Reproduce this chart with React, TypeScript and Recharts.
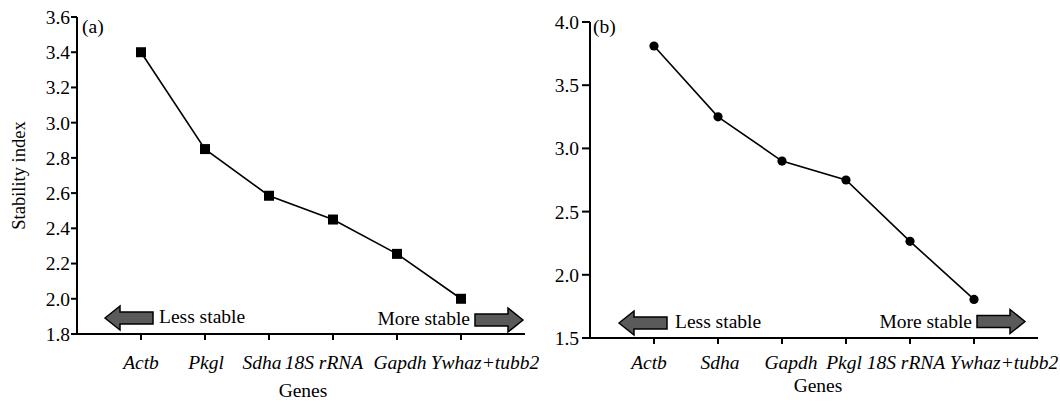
import React from "react";
import { LineChart, Line, XAxis, YAxis } from "recharts";

// panel (a)
const genesA = ["Actb", "Pkgl", "Sdha", "18S rRNA", "Gapdh", "Ywhaz+tubb2"];
const valuesA = [3.4, 2.85, 2.585, 2.45, 2.255, 2.0];
const ticksA = [1.8, 2.0, 2.2, 2.4, 2.6, 2.8, 3.0, 3.2, 3.4, 3.6];

// panel (b)
const genesB = ["Actb", "Sdha", "Gapdh", "Pkgl", "18S rRNA", "Ywhaz+tubb2"];
const valuesB = [3.81, 3.25, 2.9, 2.75, 2.265, 1.805];
const ticksB = [1.5, 2.0, 2.5, 3.0, 3.5, 4.0];

// label nudges as in the original figure (px)
const shiftA = [0, 1, -7, -9, 3, 24];
const shiftB = [-5, 2, 9, -2, -4, 30];

const FONT = "'Liberation Serif', 'Times New Roman', serif";
const FS = 19.5;

const dataA = genesA.map((g, i) => ({ gene: g, value: valuesA[i] }));
const dataB = genesB.map((g, i) => ({ gene: g, value: valuesB[i] }));

const GeneTick = ({ x, y, payload, index, shift }: any) => (
  <text
    x={x + (shift[index] || 0)}
    y={y}
    dy="0.71em"
    textAnchor="middle"
    fontFamily={FONT}
    fontSize={FS}
    fontStyle="italic"
    fill="#000"
  >
    {payload.value}
  </text>
);

const SquareDot = ({ cx, cy }: any) => <rect x={cx - 5} y={cy - 5} width={10} height={10} fill="#000" />;
const RoundDot = ({ cx, cy }: any) => <circle cx={cx} cy={cy} r={4.6} fill="#000" />;

const Arrow = ({ x, cy, dir }: { x: number; cy: number; dir: "left" | "right" }) => {
  const L = 48, h = 15, hh = 12, bh = 6;
  const pts =
    dir === "left"
      ? [[x, cy], [x + h, cy - hh], [x + h, cy - bh], [x + L, cy - bh], [x + L, cy + bh], [x + h, cy + bh], [x + h, cy + hh]]
      : [[x + L, cy], [x + L - h, cy - hh], [x + L - h, cy - bh], [x, cy - bh], [x, cy + bh], [x + L - h, cy + bh], [x + L - h, cy + hh]];
  return <polygon points={pts.map((p) => p.join(",")).join(" ")} fill="#5a5a5a" stroke="#000" strokeWidth={1.5} />;
};

const tickStyle = { fontFamily: FONT, fontSize: FS, fill: "#000" };
const axisStroke = { stroke: "#000", strokeWidth: 2 };

export default function App() {
  return (
    <div style={{ position: "absolute", left: 0, top: 0, width: 1060, height: 402, background: "#fff" }}>
      <div style={{ position: "absolute", left: 0, top: 0 }}>
        {/* wider than its half so the last tick label is not clipped */}
        <LineChart width={545} height={402} data={dataA} margin={{ top: 17, right: 20, bottom: 0, left: 0 }}>
          <XAxis
            dataKey="gene"
            height={68}
            padding={{ left: 64, right: 64 }}
            axisLine={axisStroke}
            tickLine={axisStroke}
            tickSize={6}
            tickMargin={15}
            interval={0}
            tick={(p: any) => <GeneTick {...p} shift={shiftA} />}
            label={{
              content: ({ viewBox }: any) => (
                <text x={viewBox.x + viewBox.width / 2 + 2} y={397} textAnchor="middle" fontFamily={FONT} fontSize={FS} fill="#000">
                  Genes
                </text>
              ),
            }}
          />
          <YAxis
            width={77}
            domain={[1.8, 3.6]}
            ticks={ticksA}
            tickFormatter={(v: number) => v.toFixed(1)}
            axisLine={axisStroke}
            tickLine={axisStroke}
            tickSize={6}
            tickMargin={1}
            tick={tickStyle}
            label={{
              content: ({ viewBox }: any) => (
                <text
                  x={19}
                  y={viewBox.y + viewBox.height / 2}
                  transform={`rotate(-90, 19, ${viewBox.y + viewBox.height / 2})`}
                  textAnchor="middle"
                  dominantBaseline="central"
                  fontFamily={FONT}
                  fontSize={18.5}
                  fill="#000"
                >
                  Stability index
                </text>
              ),
            }}
          />
          <Line
            type="linear"
            dataKey="value"
            stroke="#000"
            strokeWidth={1.6}
            dot={<SquareDot />}
            activeDot={false}
            isAnimationActive={false}
          />
        </LineChart>
      </div>

      <div style={{ position: "absolute", left: 530, top: 0 }}>
        <LineChart width={530} height={402} data={dataB} margin={{ top: 22, right: 22, bottom: 0, left: 0 }}>
          <XAxis
            dataKey="gene"
            height={64}
            padding={{ left: 64, right: 64 }}
            axisLine={axisStroke}
            tickLine={axisStroke}
            tickSize={6}
            tickMargin={11}
            interval={0}
            tick={(p: any) => <GeneTick {...p} shift={shiftB} />}
            label={{
              content: ({ viewBox }: any) => (
                <text x={viewBox.x + viewBox.width / 2 + 4} y={392} textAnchor="middle" fontFamily={FONT} fontSize={FS} fill="#000">
                  Genes
                </text>
              ),
            }}
          />
          <YAxis
            width={60}
            domain={[1.5, 4.0]}
            ticks={ticksB}
            tickFormatter={(v: number) => v.toFixed(1)}
            axisLine={axisStroke}
            tickLine={axisStroke}
            tickSize={8}
            tickMargin={3}
            tick={tickStyle}
          />
          <Line
            type="linear"
            dataKey="value"
            stroke="#000"
            strokeWidth={1.6}
            dot={<RoundDot />}
            activeDot={false}
            isAnimationActive={false}
          />
        </LineChart>
      </div>

      {/* panel letters, stability arrows */}
      <svg width={1060} height={402} style={{ position: "absolute", left: 0, top: 0, pointerEvents: "none" }}>
        <g fontFamily={FONT} fontSize={FS} fill="#000">
          <text x={82} y={33}>(a)</text>
          <text x={593} y={33}>(b)</text>
          <text x={159} y={323}>Less stable</text>
          <text x={470} y={325} textAnchor="end">More stable</text>
          <text x={675} y={328}>Less stable</text>
          <text x={972} y={328} textAnchor="end">More stable</text>
        </g>
        <Arrow x={105} cy={318} dir="left" />
        <Arrow x={475} cy={320} dir="right" />
        <Arrow x={619} cy={323} dir="left" />
        <Arrow x={977} cy={321.5} dir="right" />
      </svg>
    </div>
  );
}
